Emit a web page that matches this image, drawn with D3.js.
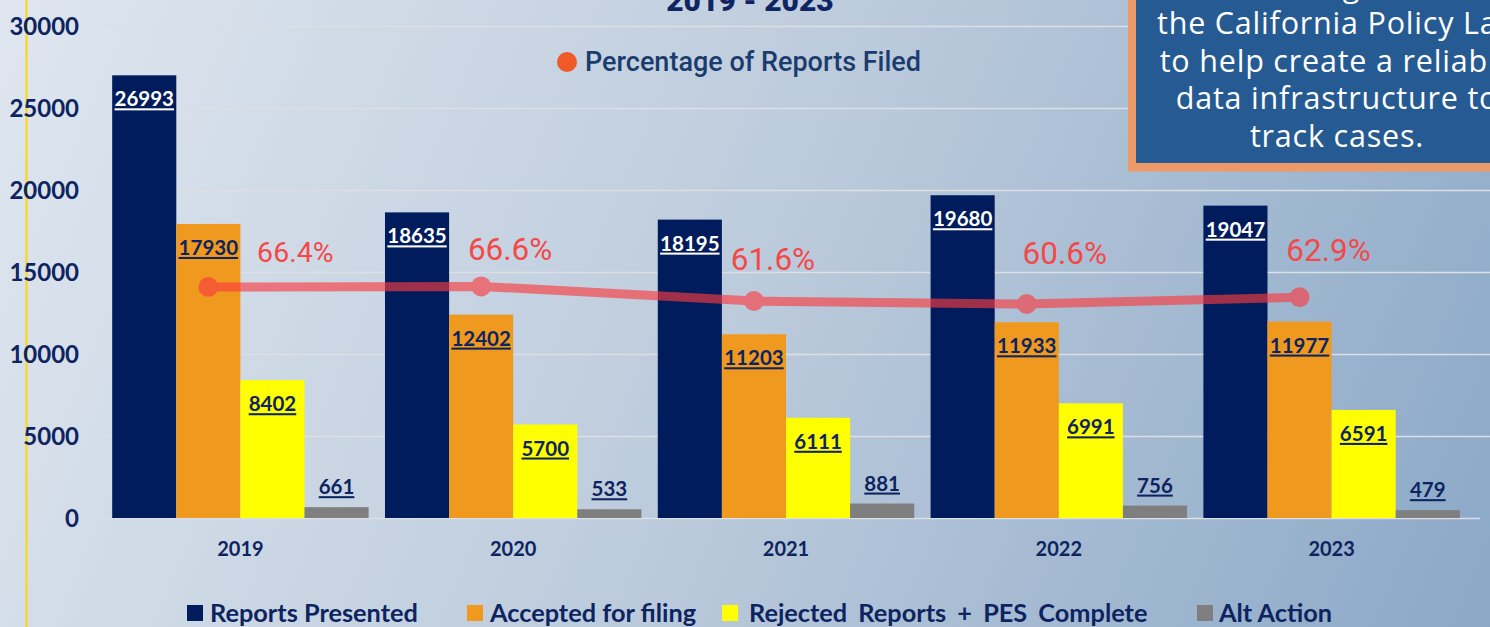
<!DOCTYPE html>
<html>
<head>
<meta charset="utf-8">
<script src="https://cdn.jsdelivr.net/npm/d3@7"></script>
<style>
  html, body { margin: 0; padding: 0; overflow: hidden; }
  body { width: 1490px; height: 627px; }
  svg { display: block; }
</style>
</head>
<body>
<svg id="chart" width="1490" height="627"></svg>
<script>
// ---------------- DATA ----------------
const years = ["2019", "2020", "2021", "2022", "2023"];
const seriesNames = ["Reports Presented", "Accepted for filing", "Rejected Reports + PES Complete", "Alt Action"];
const reportsPresented = [26993, 18635, 18195, 19680, 19047];
const acceptedForFiling = [17930, 12402, 11203, 11933, 11977];
const rejectedPlusPES = [8402, 5700, 6111, 6991, 6591];
const altAction = [661, 533, 881, 756, 479];
const percentFiled = [66.4, 66.6, 61.6, 60.6, 62.9];
const yTicks = [0, 5000, 10000, 15000, 20000, 25000, 30000];
const titleText = "2019 - 2023";
const lineLegendText = "Percentage of Reports Filed";
const boxLines = ["working with", "the California Policy Lab", "to help create a reliable", "data infrastructure to", "track cases."];

// ---------------- LAYOUT / STYLE ----------------
const W = 1490, H = 627;
const colors = ["#001c5c", "#f0991f", "#ffff00", "#7f7f7f"];
const labelColors = ["#ffffff", "#0d2461", "#0d2461", "#0d2461"];
const navy = "#0d2461";
const seriesValues = [reportsPresented, acceptedForFiling, rejectedPlusPES, altAction];

const svg = d3.select("#chart");
const defs = svg.append("defs");
const grad = defs.append("linearGradient").attr("id", "bg")
  .attr("gradientUnits", "userSpaceOnUse")
  .attr("x1", 0).attr("y1", 0).attr("x2", W).attr("y2", H);
grad.append("stop").attr("offset", "0%").attr("stop-color", "#dfe6ef");
grad.append("stop").attr("offset", "50%").attr("stop-color", "#bccbdc");
grad.append("stop").attr("offset", "100%").attr("stop-color", "#8ba8c7");
svg.append("rect").attr("width", W).attr("height", H).attr("fill", "url(#bg)");

// yellow vertical rule on the left
svg.append("line").attr("x1", 26.5).attr("x2", 26.5).attr("y1", 0).attr("y2", H)
  .attr("stroke", "#ffd800").attr("stroke-width", 2);

const y = d3.scaleLinear().domain([0, 30000]).range([518, 26]);
const x0 = d3.scaleBand().domain(years).range([104, 1468]).paddingInner(0.06).paddingOuter(0.03);
const x1 = d3.scaleBand().domain(seriesNames).range([0, x0.bandwidth()]);
const yPct = d3.scaleLinear().domain([0, 100]).range([481.6, 188.5]);

// gridlines
svg.append("g").selectAll("line").data(yTicks).join("line")
  .attr("x1", 105).attr("x2", d => d === 0 ? 1480 : W)
  .attr("y1", d => Math.round(y(d)) + 0.5).attr("y2", d => Math.round(y(d)) + 0.5)
  .attr("stroke", "#dcdfe3").attr("stroke-width", 1.5);

// y axis via d3 axis
const yAxis = svg.append("g").attr("transform", "translate(80,0)")
  .call(d3.axisLeft(y).tickValues(yTicks).tickSize(0).tickPadding(1).tickFormat(d3.format("d")));
yAxis.select(".domain").remove();
yAxis.selectAll("text")
  .attr("fill", navy).attr("font-family", "Lato, sans-serif").attr("font-weight", 700)
  .attr("font-size", 24).attr("dy", "0.36em");

// x axis labels
const xAxis = svg.append("g").attr("transform", "translate(0,537)")
  .call(d3.axisBottom(x0).tickSize(0).tickPadding(0));
xAxis.select(".domain").remove();
xAxis.selectAll("text")
  .attr("fill", navy).attr("font-family", "Lato, sans-serif").attr("font-weight", 700)
  .attr("font-size", 20).attr("dy", "0.95em");

// bars
const groups = svg.append("g").selectAll("g").data(years).join("g")
  .attr("transform", d => `translate(${x0(d)},0)`);
groups.each(function(yr, i) {
  const g = d3.select(this);
  seriesNames.forEach((s, k) => {
    const v = seriesValues[k][i];
    g.append("rect")
      .attr("x", x1(s)).attr("width", x1.bandwidth())
      .attr("y", y(v)).attr("height", y(0) - y(v))
      .attr("fill", colors[k]);
  });
});

// percentage line
const pts = years.map((yr, i) => [x0(yr) + x1(seriesNames[1]) + x1.bandwidth() / 2, yPct(percentFiled[i])]);
const lineG = svg.append("g").attr("opacity", 0.64);
lineG.append("path").attr("d", d3.line()(pts)).attr("fill", "none")
  .attr("stroke", "#fa3c40").attr("stroke-width", 9);
lineG.selectAll("circle").data(pts).join("circle")
  .attr("cx", d => d[0]).attr("cy", d => d[1]).attr("r", 10).attr("fill", "#fa3c40");

// bar value labels (drawn over line)
groups.each(function(yr, i) {
  const g = d3.select(this);
  seriesNames.forEach((s, k) => {
    const v = seriesValues[k][i];
    const inside = k < 3;
    g.append("text")
      .attr("x", x1(s) + x1.bandwidth() / 2)
      .attr("y", inside ? y(v) + 31 : y(v) - 13)
      .attr("text-anchor", "middle")
      .attr("font-family", "Lato, sans-serif").attr("font-weight", 700).attr("font-size", 20.5)
      .attr("fill", labelColors[k])
      .style("text-decoration", "underline")
      .text(v);
  });
});

// percentage labels (manual nudges as in the original)
const pctDx = [87, 29, 19, 38, 29];
const pctBase = [262, 260, 270, 264, 261];
const pctSize = [28.5, 31.5, 31.5, 31.5, 31.5];
svg.append("g").selectAll("text").data(percentFiled).join("text")
  .attr("x", (d, i) => pts[i][0] + pctDx[i])
  .attr("y", (d, i) => pctBase[i])
  .attr("text-anchor", "middle")
  .attr("font-family", "Roboto, sans-serif").attr("font-size", (d, i) => pctSize[i])
  .attr("fill", "#f44848")
  .text(d => d.toFixed(1) + "%");

// title (clipped at top)
svg.append("text").attr("x", 750).attr("y", 11).attr("text-anchor", "middle")
  .attr("font-family", "Roboto, sans-serif").attr("font-weight", 900).attr("font-size", 30)
  .attr("fill", "#0f2563").text(titleText);

// line legend
svg.append("circle").attr("cx", 567).attr("cy", 62).attr("r", 10).attr("fill", "#f05a28");
svg.append("text").attr("x", 585).attr("y", 71)
  .attr("font-family", "Roboto, sans-serif").attr("font-weight", 500).attr("font-size", 27)
  .attr("fill", "#1a3c6e").text(lineLegendText);

// bottom legend
const legX = [187, 467, 722, 1197];
const legTextGap = [23, 23, 27, 22];
const legWordSpacing = [0, 0, 5, 0];
const leg = svg.append("g");
seriesNames.forEach((s, k) => {
  leg.append("rect").attr("x", legX[k]).attr("y", 605).attr("width", 16).attr("height", 16).attr("fill", colors[k]);
  leg.append("text").attr("x", legX[k] + legTextGap[k]).attr("y", 622)
    .attr("font-family", "Lato, sans-serif").attr("font-weight", 700).attr("font-size", 25.3)
    .attr("word-spacing", legWordSpacing[k])
    .attr("fill", navy).text(s);
});

// top-right text box
const box = svg.append("g");
box.append("rect").attr("x", 1128).attr("y", -20).attr("width", 420).attr("height", 191.5).attr("fill", "#ee9a68");
box.append("rect").attr("x", 1136).attr("y", -20).attr("width", 404).attr("height", 183).attr("fill", "#255a92");
box.selectAll("text").data(boxLines).join("text")
  .attr("x", 1337).attr("y", (d, i) => -3.5 + i * 37.5)
  .attr("text-anchor", "middle")
  .attr("font-family", "'Open Sans', sans-serif").attr("font-size", 30.5)
  .attr("letter-spacing", 0.8)
  .attr("fill", "#ffffff").text(d => d);
</script>
</body>
</html>
